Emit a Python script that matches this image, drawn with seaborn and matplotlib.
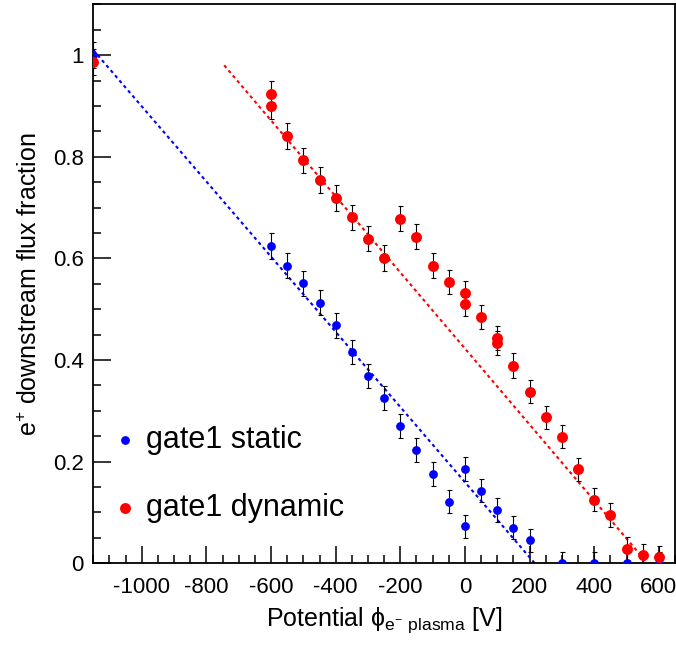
import numpy as np
import pandas as pd
import matplotlib
matplotlib.use("Agg")
import matplotlib.pyplot as plt
from matplotlib.ticker import MultipleLocator, FormatStrFormatter
import seaborn as sns

# static gate1 measurements
static_x = [-1150, -600, -550, -500, -450, -400, -350, -300, -250, -200, -150, -100,
            -50, 0, 0, 50, 100, 150, 200, 300, 400, 500, 600]
static_y = [1.0, 0.624, 0.586, 0.551, 0.513, 0.468, 0.416, 0.368, 0.325, 0.270, 0.223, 0.176,
            0.121, 0.185, 0.073, 0.143, 0.105, 0.070, 0.045, 0.0, 0.0, 0.0, 0.0]
static_err = [0.026, 0.026, 0.025, 0.025, 0.025, 0.025, 0.024, 0.024, 0.024, 0.024, 0.024, 0.024,
              0.023, 0.024, 0.023, 0.023, 0.023, 0.023, 0.023, 0.023, 0.023, 0.023, 0.023]

# dynamic gate1 measurements
dynamic_x = [-1150, -600, -600, -550, -500, -450, -400, -350, -300, -250, -200, -150, -100,
             -50, 0, 0, 50, 100, 100, 150, 200, 250, 300, 350, 400, 450, 500, 550, 600]
dynamic_y = [0.987, 0.923, 0.900, 0.841, 0.793, 0.754, 0.719, 0.681, 0.639, 0.601, 0.678, 0.643, 0.586,
             0.554, 0.532, 0.510, 0.485, 0.443, 0.434, 0.389, 0.338, 0.287, 0.249, 0.185, 0.125, 0.095,
             0.029, 0.016, 0.013]
dynamic_err = [0.026, 0.026, 0.026, 0.025, 0.025, 0.025, 0.025, 0.025, 0.025, 0.025, 0.025, 0.025, 0.024,
               0.024, 0.024, 0.024, 0.024, 0.024, 0.024, 0.024, 0.023, 0.023, 0.023, 0.023, 0.023, 0.023,
               0.022, 0.022, 0.022]

# linear fits (end points)
static_fit_x = [-1150, 216]
static_fit_y = [1.01, 0.0]
dynamic_fit_x = [-745, 565]
dynamic_fit_y = [0.98, 0.0]

sns.set_theme(style="white", rc={"text.color": "black", "axes.labelcolor": "black",
                                 "xtick.color": "black", "ytick.color": "black"})
plt.rcParams["font.family"] = ["Liberation Sans", "DejaVu Sans"]
plt.rcParams["axes.unicode_minus"] = False
plt.rcParams["mathtext.default"] = "regular"

fig = plt.figure(figsize=(6.76, 6.5), dpi=100)
ax = fig.add_axes([93.3 / 676, 1 - 563.3 / 650, (675 - 93.3) / 676, (563.3 - 4.3) / 650])

blue = "#0000ff"
red = "#ff0000"
dots = (0, (1.6, 1.6))

sns.lineplot(x=static_fit_x, y=static_fit_y, ax=ax, color=blue, linewidth=1.5,
             linestyle=dots, sort=False, estimator=None, zorder=1)
sns.lineplot(x=dynamic_fit_x, y=dynamic_fit_y, ax=ax, color=red, linewidth=1.5,
             linestyle=dots, sort=False, estimator=None, zorder=1)

ax.errorbar(static_x, static_y, yerr=static_err, fmt="none", ecolor="black",
            elinewidth=0.8, capsize=1.8, capthick=0.8, zorder=2)
ax.errorbar(dynamic_x, dynamic_y, yerr=dynamic_err, fmt="none", ecolor="black",
            elinewidth=0.8, capsize=1.8, capthick=0.8, zorder=2)

df_static = pd.DataFrame({"x": static_x, "y": static_y})
df_dynamic = pd.DataFrame({"x": dynamic_x, "y": dynamic_y})
sns.scatterplot(data=df_static, x="x", y="y", ax=ax, color=blue, s=40, linewidth=0,
                label="gate1 static", zorder=3, clip_on=True)
sns.scatterplot(data=df_dynamic, x="x", y="y", ax=ax, color=red, s=62, linewidth=0,
                label="gate1 dynamic", zorder=3, clip_on=True)

ax.set_xlim(-1150, 650)
ax.set_ylim(0, 1.1)

ax.xaxis.set_major_locator(MultipleLocator(200))
ax.xaxis.set_minor_locator(MultipleLocator(50))
ax.yaxis.set_major_locator(MultipleLocator(0.2))
ax.yaxis.set_minor_locator(MultipleLocator(0.05))
ax.yaxis.set_major_formatter(FormatStrFormatter("%g"))
ax.xaxis.set_major_formatter(FormatStrFormatter("%g"))

ax.tick_params(which="both", direction="in", left=True, bottom=True, top=False, right=False,
               colors="black", width=1.1)
ax.tick_params(which="major", length=12.6, labelsize=16)
ax.tick_params(which="minor", length=6.1)
ax.tick_params(axis="x", which="major", pad=10)
ax.tick_params(axis="y", which="major", pad=7)

for sp in ax.spines.values():
    sp.set_color("black")
    sp.set_linewidth(1.3)

ax.set_xlabel("Potential ϕ$_{e^{-}\\ plasma}$ [V]", fontsize=18, labelpad=4)
ax.set_ylabel("e$^{+}$ downstream flux fraction", fontsize=18, labelpad=8)
ax.xaxis.set_label_coords(0.5, -0.075)

leg = ax.legend(loc="upper left", bbox_to_anchor=(0.038, 0.248), frameon=False,
                fontsize=22, handlelength=0.6, handletextpad=0.39, labelspacing=1.26,
                borderpad=0, borderaxespad=0, markerscale=1.0)

fig.savefig("out.png", dpi=100)
